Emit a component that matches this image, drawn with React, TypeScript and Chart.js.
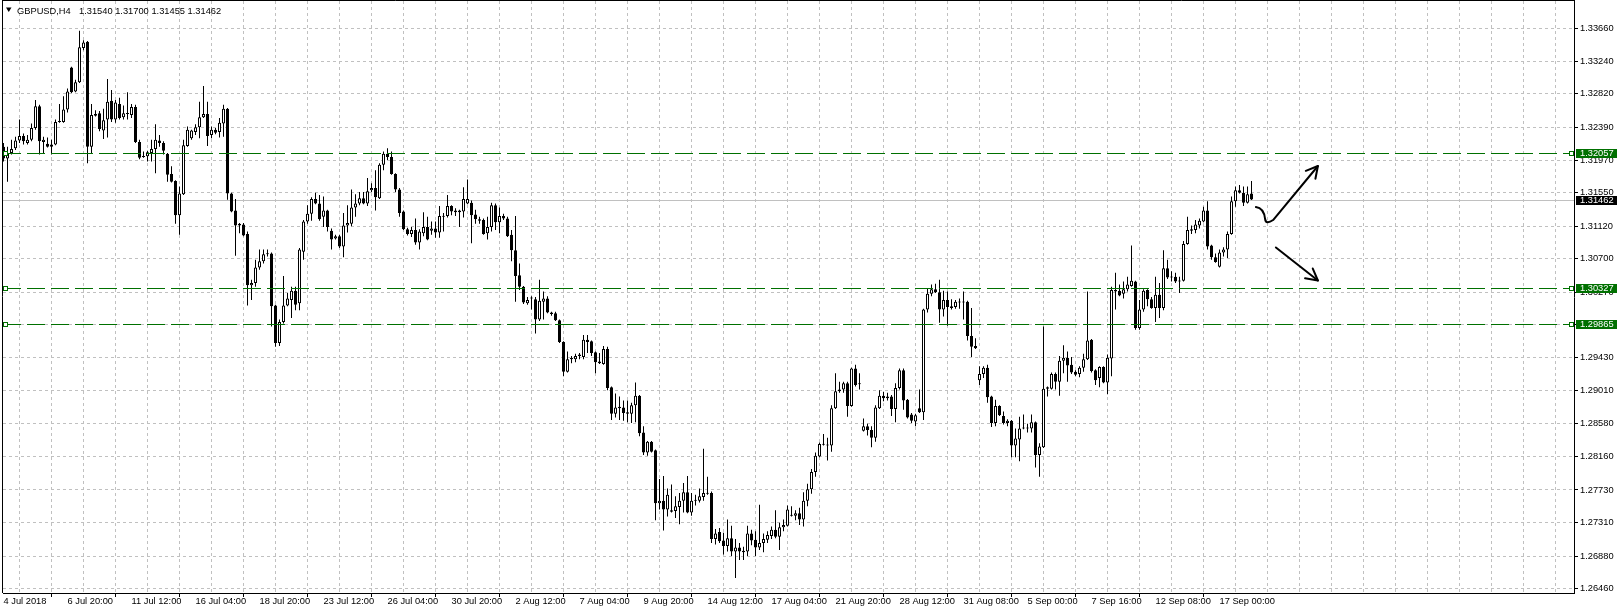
import React, { useEffect, useRef } from 'react';
import { Chart, registerables } from 'chart.js';

Chart.register(...registerables);

// ---------------- data (GBPUSD, H4) ----------------
const SYMBOL = 'GBPUSD,H4';

const OPEN = [
  1.3214, 1.3199, 1.3206, 1.3212, 1.3222, 1.3228, 1.3219, 1.3223, 1.3238, 1.3266,
  1.3220, 1.3218, 1.3217, 1.3217, 1.3246, 1.3246, 1.3262, 1.3316, 1.3285, 1.3297,
  1.3341, 1.3349, 1.3214, 1.3256, 1.3257, 1.3235, 1.3249, 1.3273, 1.3249, 1.3269,
  1.3252, 1.3257, 1.3255, 1.3265, 1.3220, 1.3202, 1.3202, 1.3206, 1.3211, 1.3222,
  1.3219, 1.3205, 1.3179, 1.3170, 1.3126, 1.3153, 1.3215, 1.3225, 1.3233, 1.3239,
  1.3252, 1.3256, 1.3229, 1.3236, 1.3233, 1.3244, 1.3263, 1.3154, 1.3132, 1.3115,
  1.3114, 1.3102, 1.3036, 1.3039, 1.3059, 1.3067, 1.3077, 1.3077, 1.3010, 1.2962,
  1.2989, 1.3010, 1.3017, 1.3029, 1.3013, 1.3079, 1.3118, 1.3128, 1.3147, 1.3141,
  1.3124, 1.3132, 1.3106, 1.3096, 1.3099, 1.3086, 1.3113, 1.3115, 1.3136, 1.3141,
  1.3148, 1.3141, 1.3158, 1.3161, 1.3148, 1.3191, 1.3205, 1.3201, 1.3179, 1.3159,
  1.3131, 1.3108, 1.3102, 1.3107, 1.3091, 1.3103, 1.3111, 1.3106, 1.3109, 1.3104,
  1.3124, 1.3125, 1.3138, 1.3132, 1.3132, 1.3131, 1.3141, 1.3142, 1.3127, 1.3121,
  1.3120, 1.3103, 1.3111, 1.3139, 1.3117, 1.3125, 1.3122, 1.3101, 1.3081, 1.3049,
  1.3034, 1.3013, 1.3020, 1.3018, 1.2992, 1.3015, 1.3019, 1.3001, 1.3000, 1.2991,
  1.2963, 1.2925, 1.2941, 1.2941, 1.2945, 1.2944, 1.2966, 1.2964, 1.2950, 1.2938,
  1.2935, 1.2954, 1.2905, 1.2871, 1.2880, 1.2879, 1.2871, 1.2871, 1.2882, 1.2894,
  1.2847, 1.2821, 1.2835, 1.2824, 1.2756, 1.2759, 1.2748, 1.2747, 1.2746, 1.2751,
  1.2759, 1.2770, 1.2744, 1.2759, 1.2759, 1.2764, 1.2769, 1.2769, 1.2710, 1.2719,
  1.2708, 1.2701, 1.2711, 1.2694, 1.2699, 1.2695, 1.2694, 1.2717, 1.2709, 1.2699,
  1.2705, 1.2709, 1.2714, 1.2722, 1.2713, 1.2725, 1.2727, 1.2740, 1.2740, 1.2743,
  1.2735, 1.2759, 1.2774, 1.2796, 1.2816, 1.2831, 1.2830, 1.2830, 1.2878, 1.2900,
  1.2902, 1.2910, 1.2881, 1.2929, 1.2910, 1.2849, 1.2855, 1.2850, 1.2840, 1.2878,
  1.2894, 1.2893, 1.2893, 1.2877, 1.2904, 1.2927, 1.2889, 1.2870, 1.2861, 1.2878,
  1.2873, 1.3005, 1.3025, 1.3031, 1.3027, 1.3005, 1.3017, 1.3007, 1.3008, 1.3014,
  1.3015, 1.3015, 1.2971, 1.2958, 1.2914, 1.2922, 1.2930, 1.2893, 1.2859, 1.2881,
  1.2868, 1.2859, 1.2862, 1.2830, 1.2838, 1.2852, 1.2852, 1.2852, 1.2860, 1.2818,
  1.2828, 1.2905, 1.2903, 1.2922, 1.2912, 1.2939, 1.2943, 1.2934, 1.2925, 1.2922,
  1.2930, 1.2941, 1.2966, 1.2927, 1.2917, 1.2931, 1.2911, 1.2942, 1.3030, 1.3029,
  1.3025, 1.3031, 1.3035, 1.3041, 1.2981, 1.3005, 1.3030, 1.3018, 1.3007, 1.3024,
  1.3007, 1.3058, 1.3047, 1.3047, 1.3042, 1.3042, 1.3089, 1.3106, 1.3107, 1.3113,
  1.3118, 1.3132, 1.3087, 1.3072, 1.3060, 1.3078, 1.3082, 1.3102, 1.3144, 1.3158,
  1.3155, 1.3142, 1.31540,
];

const HIGH = [
  1.3219, 1.3214, 1.3223, 1.3227, 1.3249, 1.3231, 1.3229, 1.3244, 1.3274, 1.3268,
  1.3227, 1.3226, 1.3223, 1.3249, 1.3269, 1.3279, 1.3289, 1.3317, 1.3300, 1.3363,
  1.3351, 1.3350, 1.3269, 1.3261, 1.3260, 1.3263, 1.3301, 1.3287, 1.3274, 1.3277,
  1.3267, 1.3284, 1.3269, 1.3268, 1.3223, 1.3208, 1.3209, 1.3223, 1.3243, 1.3229,
  1.3221, 1.3206, 1.3189, 1.3171, 1.3163, 1.3223, 1.3240, 1.3236, 1.3243, 1.3272,
  1.3292, 1.3272, 1.3240, 1.3238, 1.3251, 1.3268, 1.3264, 1.3155, 1.3147, 1.3116,
  1.3116, 1.3105, 1.3043, 1.3069, 1.3082, 1.3082, 1.3082, 1.3078, 1.3011, 1.2992,
  1.3048, 1.3026, 1.3034, 1.3034, 1.3084, 1.3120, 1.3139, 1.3149, 1.3155, 1.3152,
  1.3150, 1.3133, 1.3109, 1.3101, 1.3101, 1.3129, 1.3139, 1.3159, 1.3153, 1.3156,
  1.3156, 1.3174, 1.3167, 1.3184, 1.3193, 1.3208, 1.3212, 1.3208, 1.3180, 1.3161,
  1.3132, 1.3110, 1.3111, 1.3122, 1.3108, 1.3130, 1.3124, 1.3118, 1.3118, 1.3138,
  1.3129, 1.3152, 1.3139, 1.3135, 1.3133, 1.3162, 1.3172, 1.3145, 1.3133, 1.3124,
  1.3122, 1.3124, 1.3142, 1.3141, 1.3136, 1.3128, 1.3124, 1.3107, 1.3125, 1.3064,
  1.3035, 1.3021, 1.3022, 1.3021, 1.3043, 1.3028, 1.3022, 1.3002, 1.3002, 1.2992,
  1.2964, 1.2951, 1.2945, 1.2948, 1.2949, 1.2972, 1.2972, 1.2965, 1.2951, 1.2949,
  1.2958, 1.2957, 1.2906, 1.2897, 1.2893, 1.2888, 1.2888, 1.2885, 1.2911, 1.2895,
  1.2855, 1.2836, 1.2836, 1.2825, 1.2787, 1.2791, 1.2775, 1.2780, 1.2765, 1.2769,
  1.2782, 1.2791, 1.2769, 1.2767, 1.2775, 1.2826, 1.2790, 1.2771, 1.2723, 1.2724,
  1.2718, 1.2735, 1.2727, 1.2710, 1.2705, 1.2700, 1.2727, 1.2722, 1.2720, 1.2754,
  1.2717, 1.2720, 1.2726, 1.2747, 1.2731, 1.2735, 1.2753, 1.2752, 1.2747, 1.2750,
  1.2770, 1.2781, 1.2800, 1.2821, 1.2834, 1.2845, 1.2840, 1.2882, 1.2923, 1.2912,
  1.2912, 1.2912, 1.2930, 1.2934, 1.2923, 1.2865, 1.2858, 1.2855, 1.2882, 1.2901,
  1.2899, 1.2898, 1.2895, 1.2910, 1.2929, 1.2929, 1.2890, 1.2872, 1.2871, 1.2902,
  1.3006, 1.3032, 1.3037, 1.3038, 1.3043, 1.3029, 1.3028, 1.3018, 1.3017, 1.3019,
  1.3028, 1.3016, 1.3007, 1.2968, 1.2932, 1.2932, 1.2934, 1.2894, 1.2889, 1.2882,
  1.2874, 1.2864, 1.2863, 1.2852, 1.2867, 1.2870, 1.2858, 1.2870, 1.2861, 1.2833,
  1.2983, 1.2906, 1.2924, 1.2924, 1.2945, 1.2959, 1.2951, 1.2944, 1.2927, 1.2932,
  1.2948, 1.3028, 1.2967, 1.2928, 1.2932, 1.2932, 1.2947, 1.3034, 1.3052, 1.3037,
  1.3041, 1.3047, 1.3087, 1.3042, 1.3017, 1.3031, 1.3031, 1.3021, 1.3047, 1.3039,
  1.3081, 1.3069, 1.3054, 1.3052, 1.3047, 1.3093, 1.3124, 1.3113, 1.3120, 1.3122,
  1.3137, 1.3144, 1.3088, 1.3077, 1.3082, 1.3085, 1.3105, 1.3150, 1.3163, 1.3165,
  1.3163, 1.3163, 1.31700,
];

const LOW = [
  1.3195, 1.3169, 1.3204, 1.3210, 1.3219, 1.3217, 1.3217, 1.3221, 1.3236, 1.3204,
  1.3206, 1.3213, 1.3204, 1.3216, 1.3245, 1.3245, 1.3258, 1.3283, 1.3284, 1.3296,
  1.3338, 1.3193, 1.3206, 1.3253, 1.3234, 1.3224, 1.3226, 1.3246, 1.3245, 1.3249,
  1.3249, 1.3249, 1.3251, 1.3219, 1.3198, 1.3200, 1.3195, 1.3195, 1.3180, 1.3214,
  1.3204, 1.3169, 1.3168, 1.3115, 1.3101, 1.3152, 1.3214, 1.3223, 1.3229, 1.3225,
  1.3251, 1.3215, 1.3225, 1.3230, 1.3226, 1.3227, 1.3146, 1.3130, 1.3074, 1.3103,
  1.3099, 1.3010, 1.3017, 1.3034, 1.3056, 1.3064, 1.3073, 1.2983, 1.2957, 1.2958,
  1.2987, 1.3009, 1.2994, 1.3004, 1.3004, 1.3069, 1.3115, 1.3119, 1.3140, 1.3119,
  1.3111, 1.3105, 1.3082, 1.3095, 1.3084, 1.3072, 1.3104, 1.3112, 1.3124, 1.3139,
  1.3140, 1.3138, 1.3156, 1.3132, 1.3147, 1.3184, 1.3197, 1.3178, 1.3156, 1.3124,
  1.3107, 1.3100, 1.3098, 1.3088, 1.3082, 1.3099, 1.3094, 1.3101, 1.3097, 1.3097,
  1.3105, 1.3123, 1.3126, 1.3125, 1.3111, 1.3123, 1.3140, 1.3090, 1.3115, 1.3115,
  1.3101, 1.3095, 1.3105, 1.3107, 1.3103, 1.3120, 1.3098, 1.3067, 1.3015, 1.3030,
  1.3012, 1.3011, 1.3005, 1.2974, 1.2990, 1.2992, 1.3000, 1.2997, 1.2990, 1.2962,
  1.2919, 1.2924, 1.2936, 1.2937, 1.2941, 1.2941, 1.2949, 1.2945, 1.2923, 1.2935,
  1.2934, 1.2901, 1.2863, 1.2866, 1.2863, 1.2862, 1.2860, 1.2859, 1.2860, 1.2842,
  1.2818, 1.2817, 1.2821, 1.2734, 1.2748, 1.2721, 1.2739, 1.2744, 1.2737, 1.2729,
  1.2744, 1.2743, 1.2740, 1.2753, 1.2757, 1.2759, 1.2767, 1.2705, 1.2703, 1.2705,
  1.2690, 1.2694, 1.2688, 1.2660, 1.2683, 1.2683, 1.2688, 1.2702, 1.2688, 1.2696,
  1.2693, 1.2705, 1.2710, 1.2711, 1.2696, 1.2720, 1.2726, 1.2739, 1.2734, 1.2728,
  1.2726, 1.2752, 1.2768, 1.2790, 1.2815, 1.2830, 1.2811, 1.2822, 1.2877, 1.2898,
  1.2898, 1.2867, 1.2880, 1.2906, 1.2902, 1.2848, 1.2843, 1.2828, 1.2835, 1.2877,
  1.2887, 1.2888, 1.2868, 1.2860, 1.2902, 1.2876, 1.2865, 1.2859, 1.2855, 1.2872,
  1.2863, 1.3001, 1.3022, 1.3026, 1.2988, 1.2996, 1.2984, 1.3005, 1.3006, 1.3006,
  1.2992, 1.2965, 1.2944, 1.2954, 1.2908, 1.2917, 1.2885, 1.2854, 1.2855, 1.2868,
  1.2857, 1.2855, 1.2815, 1.2815, 1.2810, 1.2851, 1.2847, 1.2847, 1.2802, 1.2790,
  1.2827, 1.2893, 1.2902, 1.2902, 1.2894, 1.2923, 1.2912, 1.2922, 1.2919, 1.2918,
  1.2925, 1.2940, 1.2924, 1.2908, 1.2905, 1.2910, 1.2896, 1.2919, 1.3005, 1.3022,
  1.3019, 1.3028, 1.3034, 1.2979, 1.2979, 1.3002, 1.3009, 1.3006, 1.2989, 1.2994,
  1.3004, 1.3044, 1.3041, 1.3039, 1.3026, 1.3041, 1.3088, 1.3102, 1.3103, 1.3109,
  1.3117, 1.3082, 1.3069, 1.3065, 1.3059, 1.3073, 1.3071, 1.3101, 1.3137, 1.3154,
  1.3138, 1.3141, 1.31455,
];

const CLOSE = [
  1.3199, 1.3206, 1.3211, 1.3222, 1.3228, 1.3221, 1.3223, 1.3238, 1.3266, 1.3221,
  1.3223, 1.3214, 1.3214, 1.3246, 1.3247, 1.3262, 1.3285, 1.3284, 1.3297, 1.3342,
  1.3348, 1.3214, 1.3255, 1.3254, 1.3237, 1.3248, 1.3272, 1.3249, 1.3271, 1.3251,
  1.3257, 1.3256, 1.3265, 1.3220, 1.3200, 1.3201, 1.3207, 1.3211, 1.3223, 1.3219,
  1.3209, 1.3178, 1.3169, 1.3126, 1.3154, 1.3216, 1.3236, 1.3235, 1.3239, 1.3252,
  1.3256, 1.3228, 1.3236, 1.3232, 1.3245, 1.3263, 1.3154, 1.3131, 1.3113, 1.3113,
  1.3100, 1.3036, 1.3039, 1.3059, 1.3067, 1.3076, 1.3076, 1.3009, 1.2962, 1.2989,
  1.3010, 1.3019, 1.3029, 1.3011, 1.3082, 1.3118, 1.3128, 1.3147, 1.3141, 1.3121,
  1.3132, 1.3111, 1.3095, 1.3099, 1.3086, 1.3113, 1.3116, 1.3136, 1.3141, 1.3148,
  1.3141, 1.3157, 1.3161, 1.3149, 1.3191, 1.3205, 1.3201, 1.3179, 1.3159, 1.3129,
  1.3108, 1.3102, 1.3107, 1.3091, 1.3105, 1.3111, 1.3095, 1.3109, 1.3104, 1.3125,
  1.3125, 1.3138, 1.3131, 1.3130, 1.3130, 1.3147, 1.3147, 1.3126, 1.3121, 1.3119,
  1.3102, 1.3111, 1.3139, 1.3117, 1.3125, 1.3122, 1.3099, 1.3081, 1.3048, 1.3034,
  1.3014, 1.3017, 1.3019, 1.2992, 1.3016, 1.3019, 1.3001, 1.2999, 1.2991, 1.2963,
  1.2925, 1.2941, 1.2943, 1.2945, 1.2947, 1.2966, 1.2963, 1.2949, 1.2937, 1.2936,
  1.2954, 1.2904, 1.2871, 1.2879, 1.2878, 1.2872, 1.2873, 1.2882, 1.2894, 1.2846,
  1.2821, 1.2835, 1.2822, 1.2756, 1.2759, 1.2748, 1.2767, 1.2745, 1.2752, 1.2759,
  1.2770, 1.2744, 1.2759, 1.2760, 1.2765, 1.2769, 1.2768, 1.2710, 1.2717, 1.2707,
  1.2701, 1.2711, 1.2694, 1.2699, 1.2694, 1.2693, 1.2717, 1.2708, 1.2699, 1.2705,
  1.2710, 1.2715, 1.2722, 1.2713, 1.2725, 1.2728, 1.2748, 1.2741, 1.2743, 1.2735,
  1.2759, 1.2774, 1.2796, 1.2817, 1.2832, 1.2832, 1.2831, 1.2878, 1.2900, 1.2902,
  1.2910, 1.2881, 1.2929, 1.2908, 1.2909, 1.2855, 1.2850, 1.2840, 1.2879, 1.2894,
  1.2891, 1.2891, 1.2877, 1.2904, 1.2927, 1.2888, 1.2866, 1.2862, 1.2869, 1.2873,
  1.3005, 1.3025, 1.3031, 1.3027, 1.3005, 1.3017, 1.3008, 1.3009, 1.3015, 1.3014,
  1.3014, 1.2971, 1.2957, 1.2955, 1.2922, 1.2930, 1.2892, 1.2859, 1.2881, 1.2869,
  1.2859, 1.2862, 1.2830, 1.2839, 1.2852, 1.2853, 1.2853, 1.2860, 1.2818, 1.2829,
  1.2903, 1.2903, 1.2922, 1.2912, 1.2939, 1.2943, 1.2933, 1.2924, 1.2921, 1.2930,
  1.2941, 1.2965, 1.2926, 1.2914, 1.2931, 1.2911, 1.2943, 1.3030, 1.3028, 1.3023,
  1.3031, 1.3037, 1.3042, 1.2981, 1.3005, 1.3029, 1.3018, 1.3007, 1.3024, 1.3007,
  1.3058, 1.3046, 1.3046, 1.3041, 1.3041, 1.3089, 1.3107, 1.3108, 1.3114, 1.3119,
  1.3132, 1.3086, 1.3072, 1.3066, 1.3078, 1.3082, 1.3102, 1.3144, 1.3158, 1.3155,
  1.3142, 1.3153, 1.31462,
];

// time axis labels, one every 16 bars starting at bar 0
const X_LABELS = [
  '4 Jul 2018', '6 Jul 20:00', '11 Jul 12:00', '16 Jul 04:00', '18 Jul 20:00',
  '23 Jul 12:00', '26 Jul 04:00', '30 Jul 20:00', '2 Aug 12:00', '7 Aug 04:00',
  '9 Aug 20:00', '14 Aug 12:00', '17 Aug 04:00', '21 Aug 20:00', '28 Aug 12:00',
  '31 Aug 08:00', '5 Sep 00:00', '7 Sep 16:00', '12 Sep 08:00', '17 Sep 00:00',
];
const BARS_PER_LABEL = 16;
const BARS_PER_GRID = 8;

const Y_TICKS = [
  1.33660, 1.33240, 1.32820, 1.32390, 1.31970, 1.31550, 1.31120, 1.30700, 1.30270,
  1.29850, 1.29430, 1.29010, 1.28580, 1.28160, 1.27730, 1.27310, 1.26880, 1.26460,
];

const LEVELS = [1.32057, 1.30327, 1.29865];
const BID = 1.31462;

// hand-drawn arrows (bar index, price)
const ARROW_UP = [
  [313.1, 1.31366], [315.1, 1.31353], [315.4, 1.31212],
  [315.6, 1.31135], [317.4, 1.31199], [328.6, 1.31893],
];
const ARROW_DOWN = [[318.1, 1.30846], [328.6, 1.30422]];

// visible ranges
const X_MIN = -0.125;
const X_MAX = 392.625;
const Y_MIN = 1.264061;
const Y_MAX = 1.340134;

// ---------------- styles ----------------
const FONT_FAMILY = '"Liberation Sans", Arial, sans-serif';
const FONT_SIZE = 9.3;
const GRID = '#c0c0c0';
const LEVEL_GREEN = '#007000';
const W = 1617;
const H = 613;

function drawArrowHead(ctx: CanvasRenderingContext2D, from: number[], to: number[]) {
  const ang = Math.atan2(to[1] - from[1], to[0] - from[0]);
  const len = 13;
  const spread = 0.5;
  ctx.beginPath();
  ctx.moveTo(to[0] - len * Math.cos(ang - spread), to[1] - len * Math.sin(ang - spread));
  ctx.lineTo(to[0], to[1]);
  ctx.lineTo(to[0] - len * Math.cos(ang + spread), to[1] - len * Math.sin(ang + spread));
  ctx.stroke();
}

const overlayPlugin = {
  id: 'mt4Overlay',
  beforeDatasetsDraw(chart: any) {
    const { ctx, chartArea: a } = chart;
    const y = chart.scales.y;
    const yb = Math.round(y.getPixelForValue(BID)) + 0.5;
    ctx.save();
    ctx.strokeStyle = GRID;
    ctx.lineWidth = 1;
    ctx.beginPath();
    ctx.moveTo(a.left, yb);
    ctx.lineTo(a.right, yb);
    ctx.stroke();
    ctx.restore();
  },
  afterDraw(chart: any) {
    const { ctx, chartArea: a, width } = chart;
    const { x, y } = chart.scales;
    const font = `${FONT_SIZE}px ${FONT_FAMILY}`;
    ctx.save();

    // frame (top and left)
    ctx.strokeStyle = '#000';
    ctx.lineWidth = 1;
    ctx.beginPath();
    ctx.moveTo(a.left - 1, 0.5);
    ctx.lineTo(a.right + 1, 0.5);
    ctx.moveTo(a.left - 0.5, 0);
    ctx.lineTo(a.left - 0.5, a.bottom);
    ctx.stroke();

    // horizontal levels
    LEVELS.forEach((v) => {
      const row = Math.round(y.getPixelForValue(v));
      const yy = row + 0.5;
      ctx.save();
      ctx.beginPath();
      ctx.rect(a.left, a.top, a.right - a.left, a.bottom - a.top);
      ctx.clip();
      ctx.strokeStyle = LEVEL_GREEN;
      ctx.lineWidth = 1;
      ctx.setLineDash([18, 6]);
      ctx.beginPath();
      ctx.moveTo(a.left, yy);
      ctx.lineTo(a.right, yy);
      ctx.stroke();
      ctx.setLineDash([]);
      ctx.fillStyle = '#fff';
      [a.left + 0.5, a.right - 4.5].forEach((sx) => {
        ctx.fillRect(sx, yy - 2, 4, 4);
        ctx.strokeRect(sx, yy - 2, 4, 4);
      });
      ctx.restore();
    });

    // price boxes on the axis
    const boxes: [number, string][] = [
      ...LEVELS.map((v) => [v, LEVEL_GREEN] as [number, string]),
      [BID, '#000'],
    ];
    ctx.font = font;
    ctx.textAlign = 'left';
    ctx.textBaseline = 'middle';
    boxes.forEach(([v, col]) => {
      const row = Math.round(y.getPixelForValue(v));
      ctx.fillStyle = col;
      ctx.fillRect(a.right + 2, row - 4, width - a.right - 2, 9);
      ctx.fillStyle = '#fff';
      ctx.fillText(v.toFixed(5), a.right + 6, row + 0.5);
    });

    // header
    const last = CLOSE.length - 1;
    ctx.fillStyle = '#000';
    ctx.beginPath();
    ctx.moveTo(6, 7.5);
    ctx.lineTo(11.5, 7.5);
    ctx.lineTo(8.75, 12);
    ctx.closePath();
    ctx.fill();
    ctx.textBaseline = 'alphabetic';
    ctx.fillText(SYMBOL, 17, 14);
    const ohlc = [OPEN[last], HIGH[last], LOW[last], CLOSE[last]].map((v) => v.toFixed(5)).join(' ');
    ctx.fillText(ohlc, 79, 14);

    // arrows
    const P = (p: number[]) => [x.getPixelForValue(p[0]), y.getPixelForValue(p[1])];
    ctx.strokeStyle = '#000';
    ctx.lineWidth = 2;
    ctx.lineCap = 'round';
    ctx.lineJoin = 'round';
    const u = ARROW_UP.map(P);
    ctx.beginPath();
    ctx.moveTo(u[0][0], u[0][1]);
    ctx.quadraticCurveTo(u[1][0], u[1][1], u[2][0], u[2][1]);
    ctx.quadraticCurveTo(u[3][0], u[3][1], u[4][0], u[4][1]);
    ctx.lineTo(u[5][0], u[5][1]);
    ctx.stroke();
    drawArrowHead(ctx, u[4], u[5]);
    const d = ARROW_DOWN.map(P);
    ctx.beginPath();
    ctx.moveTo(d[0][0], d[0][1]);
    ctx.lineTo(d[1][0], d[1][1]);
    ctx.stroke();
    drawArrowHead(ctx, d[0], d[1]);

    ctx.restore();
  },
};

function buildConfig(): any {
  const idx = OPEN.map((_, i) => i);
  const bodies = idx.map((i) => ({ x: i, y: [Math.min(OPEN[i], CLOSE[i]), Math.max(OPEN[i], CLOSE[i])] }));
  const wicks = idx.map((i) => ({ x: i, y: [LOW[i], HIGH[i]] }));
  const bodyColors = idx.map((i) => (CLOSE[i] >= OPEN[i] ? '#ffffff' : '#000000'));
  const tickFont = { family: FONT_FAMILY, size: FONT_SIZE, lineHeight: 1 };

  return {
    type: 'bar',
    data: {
      datasets: [
        {
          label: 'Body',
          data: bodies,
          backgroundColor: bodyColors,
          borderColor: '#000',
          borderWidth: 1,
          borderSkipped: false,
          grouped: false,
          barThickness: 3,
          maxBarThickness: 3,
          minBarLength: 1,
          inflateAmount: 0,
          order: 0,
        },
        {
          label: 'Wick',
          data: wicks,
          backgroundColor: '#000',
          borderWidth: 0,
          grouped: false,
          barThickness: 1,
          maxBarThickness: 1,
          inflateAmount: 0,
          order: 1,
        },
      ],
    },
    options: {
      animation: false,
      responsive: false,
      devicePixelRatio: 1,
      events: [],
      layout: { padding: { left: 3, top: 1, right: 0, bottom: 0 }, autoPadding: false },
      plugins: { legend: { display: false }, tooltip: { enabled: false }, title: { display: false } },
      scales: {
        x: {
          type: 'linear',
          min: X_MIN,
          max: X_MAX,
          offset: false,
          afterBuildTicks: (s: any) => {
            const t: { value: number }[] = [];
            for (let v = 0; v <= X_MAX; v += BARS_PER_GRID) t.push({ value: v });
            s.ticks = t;
          },
          afterFit: (s: any) => {
            s.height = H - 593;
            s.paddingLeft = 0;
            s.paddingRight = 0;
          },
          ticks: {
            autoSkip: false,
            maxRotation: 0,
            minRotation: 0,
            align: 'start',
            padding: 0,
            color: '#000',
            font: tickFont,
            callback: (v: number) =>
              v % BARS_PER_LABEL === 0 ? X_LABELS[v / BARS_PER_LABEL] ?? '' : '',
          },
          grid: {
            color: (c: any) => (c.tick && c.tick.value === 0 ? 'rgba(0,0,0,0)' : GRID),
            tickColor: (c: any) =>
              c.tick && c.tick.value % BARS_PER_LABEL === 0 && c.tick.value / BARS_PER_LABEL < X_LABELS.length
                ? '#000'
                : 'rgba(0,0,0,0)',
            lineWidth: 1,
            tickLength: 4,
            drawTicks: true,
          },
          border: { display: true, color: '#000', width: 1, dash: [3, 3] },
        },
        y: {
          type: 'linear',
          position: 'right',
          min: Y_MIN,
          max: Y_MAX,
          afterBuildTicks: (s: any) => {
            s.ticks = Y_TICKS.map((v) => ({ value: v }));
          },
          afterFit: (s: any) => {
            s.width = W - 1574;
            s.paddingTop = 0;
            s.paddingBottom = 0;
          },
          ticks: {
            autoSkip: false,
            padding: 2,
            color: '#000',
            font: tickFont,
            callback: (v: number) => Number(v).toFixed(5),
          },
          grid: { color: GRID, tickColor: '#000', lineWidth: 1, tickLength: 4 },
          border: { display: true, color: '#000', width: 1, dash: [3, 3] },
        },
      },
    },
    plugins: [overlayPlugin],
  };
}

export default function App() {
  const ref = useRef<HTMLCanvasElement | null>(null);
  useEffect(() => {
    document.body.style.margin = '0';
    if (!ref.current) return;
    const chart = new Chart(ref.current, buildConfig());
    return () => chart.destroy();
  }, []);
  return (
    <div style={{ position: 'absolute', left: 0, top: 0, width: W, height: H, background: '#fff' }}>
      <canvas ref={ref} width={W} height={H} style={{ display: 'block', width: W, height: H }} />
    </div>
  );
}
